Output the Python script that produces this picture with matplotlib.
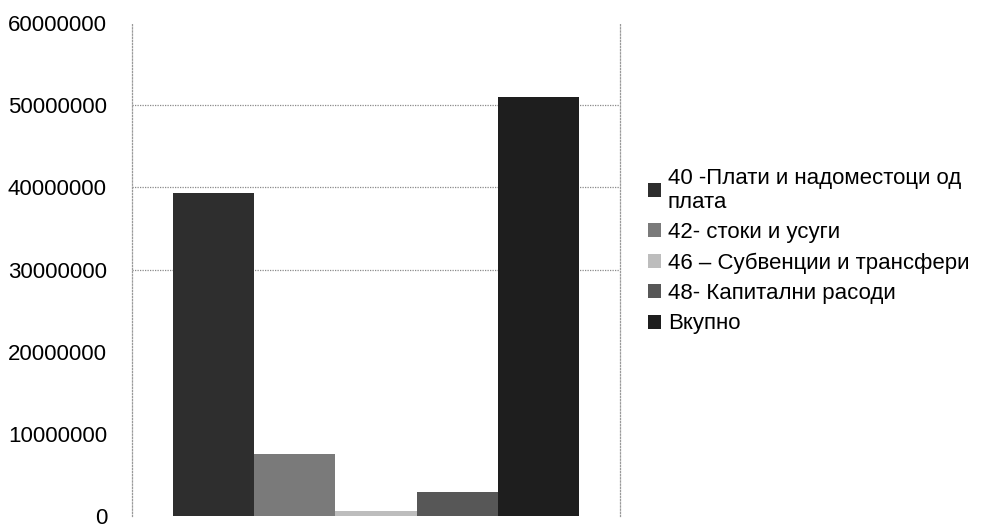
import matplotlib
matplotlib.use("Agg")
import matplotlib.pyplot as plt
import numpy as np

plt.rcParams['font.family'] = ['Liberation Sans', 'DejaVu Sans']

series = ["40 -Плати и надоместоци од\nплата", "42- стоки и усуги",
          "46 – Субвенции и трансфери", "48- Капитални расоди", "Вкупно"]
values = [39300000, 7600000, 600000, 3000000, 51000000]
colors = ["#2e2e2e", "#7a7a7a", "#bdbdbd", "#575757", "#1e1e1e"]
yticks = [0, 10000000, 20000000, 30000000, 40000000, 50000000, 60000000]

fig = plt.figure(figsize=(10, 5.29), dpi=100)
ax = fig.add_axes([0.132, 0.024, 0.488, 0.933])

w = 0.166
n = len(values)
for i, (lab, v, c) in enumerate(zip(series, values, colors)):
    ax.bar((i - (n - 1) / 2) * w, v, width=w, color=c, label=lab, edgecolor='none')

ax.set_xlim(-0.5, 0.5)
ax.set_ylim(0, 60000000)
ax.set_yticks(yticks)
ax.set_yticklabels([str(t) for t in yticks], fontsize=16)
ax.set_xticks([])
ax.tick_params(axis='y', length=0, pad=18)
for t in [30000000, 40000000, 50000000]:
    ax.axhline(t, color='#8a8a8a', linestyle=(0, (1, 1)), linewidth=0.9, zorder=0)
for s in ['top', 'bottom']:
    ax.spines[s].set_visible(False)
for s in ['left', 'right']:
    ax.spines[s].set_linestyle((0, (1, 1.5)))
    ax.spines[s].set_color('#9a9a9a')
    ax.spines[s].set_linewidth(0.9)

fig.legend(loc='upper left', bbox_to_anchor=(0.639, 0.70), frameon=False,
           fontsize=16, handlelength=0.6, handleheight=0.6, handletextpad=0.3,
           labelspacing=0.42, borderaxespad=0)

fig.savefig("out.png", dpi=100)
